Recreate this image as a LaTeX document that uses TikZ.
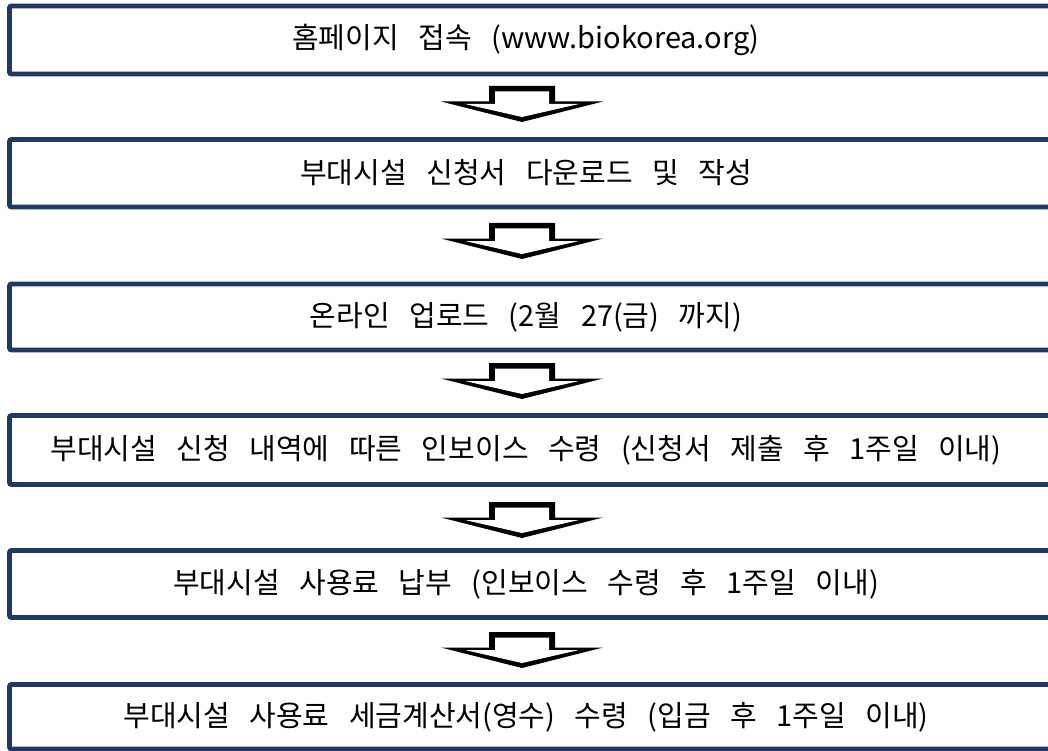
\documentclass[tikz,border=0pt]{standalone}
\usepackage{fontspec}
\setmainfont{Noto Sans CJK KR}[WordSpace={3.0,0,0}]
\definecolor{boxnavy}{HTML}{1F3864}
\tikzset{
  stepbox/.style={draw=boxnavy, line width=4.8pt, rounded corners=2pt, fill=white, inner sep=0pt},
  steptext/.style={font=\fontsize{29}{33}\selectfont, text=black, inner sep=0pt, anchor=center},
  blockarrow/.pic={
    \fill[black] (-81,15.5) -- (-33,15.5) -- (-33,0) -- (33,0) -- (33,15.5) -- (81,15.5) -- (0,36) -- cycle;
    \fill[white] (-27,5.5) -- (27,5.5) -- (27,18) -- (57,18) -- (0,31) -- (-57,18) -- (-27,18) -- cycle;
  }
}
\begin{document}
\begin{tikzpicture}[x=1pt,y=-1pt]
\useasboundingbox (0,0) rectangle (1048,751);
\clip (0,0) rectangle (1048,751);
% boxes (right side runs past the page edge)
\draw[stepbox] (9.5,6) rectangle (1070,74);
\node[steptext] (t1) at (526,40) {홈페이지 접속 (www.biokorea.org)};
\draw[stepbox] (9.5,139.5) rectangle (1070,207);
\node[steptext] (t2) at (526,173) {부대시설 신청서 다운로드 및 작성};
\draw[stepbox] (9.5,284) rectangle (1070,350);
\node[steptext] (t3) at (526,317) {온라인 업로드 (2월 27(금) 까지)};
\draw[stepbox] (9.5,415.5) rectangle (1070,484.5);
\node[steptext] (t4) at (526,450) {부대시설 신청 내역에 따른 인보이스 수령 (신청서 제출 후 1주일 이내)};
\draw[stepbox] (9.5,550.5) rectangle (1070,617.5);
\node[steptext] (t5) at (526,584) {부대시설 사용료 납부 (인보이스 수령 후 1주일 이내)};
\draw[stepbox] (9.5,684.5) rectangle (1070,749);
\node[steptext] (t6) at (526,717) {부대시설 사용료 세금계산서(영수) 수령 (입금 후 1주일 이내)};
% block arrows
\pic at (522,86) {blockarrow};
\pic at (522,223) {blockarrow};
\pic at (522,363) {blockarrow};
\pic at (522,502) {blockarrow};
\pic at (522,632) {blockarrow};
\end{tikzpicture}
\end{document}
